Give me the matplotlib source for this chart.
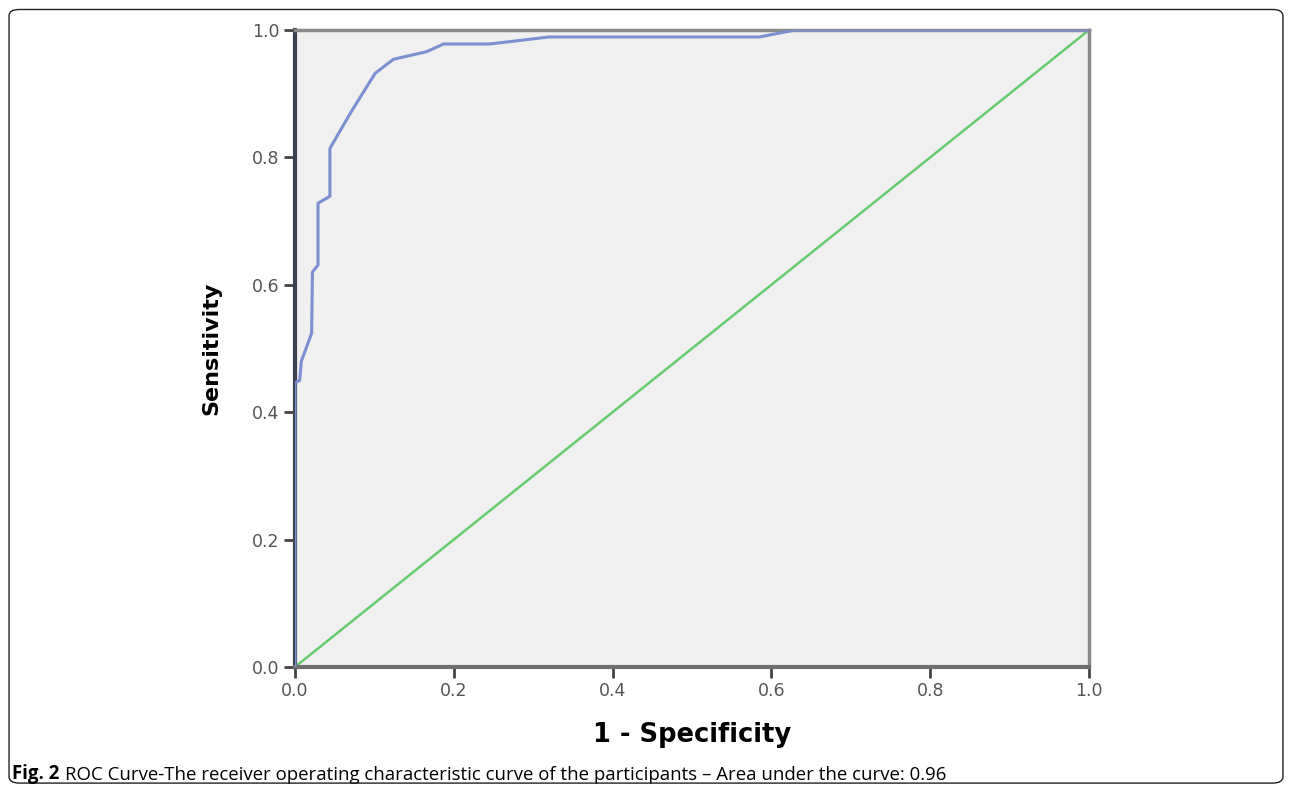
import matplotlib
matplotlib.use("Agg")
import matplotlib.pyplot as plt
from matplotlib.patches import FancyBboxPatch

# ROC curve points (1 - specificity, sensitivity)
fpr = [0.0, 0.0, 0.006, 0.008, 0.021, 0.022, 0.029, 0.029, 0.044, 0.044, 0.050,
       0.071, 0.101, 0.124, 0.166, 0.187, 0.245, 0.320, 0.585, 0.630, 1.0]
tpr = [0.0, 0.446, 0.450, 0.480, 0.524, 0.620, 0.631, 0.728, 0.739, 0.814, 0.827,
       0.872, 0.932, 0.954, 0.966, 0.978, 0.978, 0.989, 0.989, 1.0, 1.0]
ref_line = [0.0, 1.0]
ticks = [0.0, 0.2, 0.4, 0.6, 0.8, 1.0]
tick_labels = ["0.0", "0.2", "0.4", "0.6", "0.8", "1.0"]

fig = plt.figure(figsize=(12.92, 7.91), dpi=100)
ax = fig.add_axes([0.2283, 0.1568, 0.6146, 0.8053])
ax.set_facecolor("#f0f0f0")

ax.plot(ref_line, ref_line, color="#66cc6e", lw=1.8, zorder=2)
ax.plot(fpr, tpr, color="#7b8fd2", lw=2.2, zorder=3, solid_joinstyle="round")

ax.set_xlim(0, 1)
ax.set_ylim(0, 1)
ax.set_xticks(ticks)
ax.set_xticklabels(tick_labels)
ax.set_yticks(ticks)
ax.set_yticklabels(tick_labels)
ax.tick_params(direction="out", length=8, width=2, color="#444444",
               labelsize=12.5, labelcolor="#555555", pad=3)
for lab in ax.get_xticklabels() + ax.get_yticklabels():
    lab.set_family("DejaVu Sans")

ax.spines["left"].set_color("#3c4150")
ax.spines["left"].set_linewidth(3)
ax.spines["bottom"].set_color("#6e6e6e")
ax.spines["bottom"].set_linewidth(3)
for side in ("top", "right"):
    ax.spines[side].set_color("#8a8a8a")
    ax.spines[side].set_linewidth(2.5)

ax.set_xlabel("1 - Specificity", fontsize=18.5, fontweight="bold",
              family="DejaVu Sans", labelpad=16)
ax.set_ylabel("Sensitivity", fontsize=16, fontweight="bold",
              family="DejaVu Sans", labelpad=22)

# rounded frame around the whole figure
frame = FancyBboxPatch((0.007, 0.01), 0.986, 0.978, boxstyle="round,pad=0,rounding_size=0.008",
                       transform=fig.transFigure, fill=False, edgecolor="#222222", lw=1.0)
fig.patches.append(frame)

# caption: bold "Fig. 2" followed by regular text
fig_lbl = fig.text(0.0095, 0.015, "Fig. 2", fontsize=13.4, fontweight="bold",
                   family="Open Sans", va="baseline")
ax.annotate("ROC Curve-The receiver operating characteristic curve of the participants "
            "\u2013 Area under the curve: 0.96",
            xy=(1, 0), xycoords=fig_lbl, xytext=(4, 0), textcoords="offset points",
            fontsize=13.4, family="Open Sans", va="bottom", annotation_clip=False)

fig.savefig("out.png", dpi=100)
